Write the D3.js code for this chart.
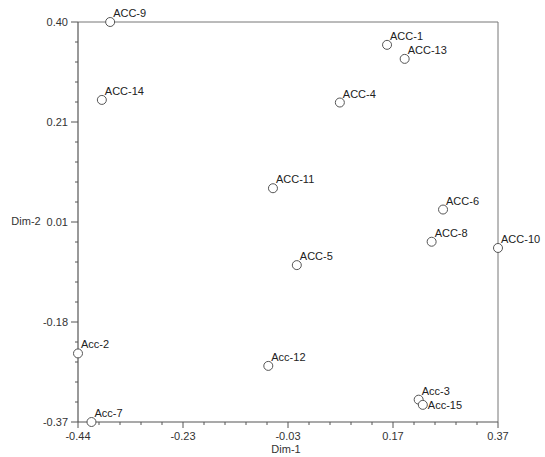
<!DOCTYPE html>
<html lang="en">
<head>
    <meta charset="UTF-8">
    <title>Dim-1 vs Dim-2</title>
    <script src="https://d3js.org/d3.v7.min.js"></script>
    <style>
        body { margin: 0; background: white; font-family: "Liberation Sans", Arial, sans-serif; }
        svg { display: block; }
    </style>
</head>
<body>
    <svg width="545" height="457"></svg>

    <script>
        // accession coordinates
        const names = ["ACC-1", "Acc-2", "Acc-3", "ACC-4", "ACC-5", "ACC-6", "Acc-7", "ACC-8",
                       "ACC-9", "ACC-10", "ACC-11", "Acc-12", "ACC-13", "ACC-14", "Acc-15"];
        const dim1 = [0.156, -0.44, 0.217, 0.065, -0.018, 0.264, -0.414, 0.242,
                      -0.378, 0.37, -0.064, -0.073, 0.190, -0.394, 0.225];
        const dim2 = [0.356, -0.238, -0.327, 0.245, -0.068, 0.039, -0.37, -0.023,
                      0.40, -0.035, 0.080, -0.262, 0.329, 0.250, -0.337];

        const xTicks = [-0.44, -0.2375, -0.035, 0.1675, 0.37];
        const xTickLabels = ["-0.44", "-0.23", "-0.03", "0.17", "0.37"];
        const yTicks = [-0.37, -0.1775, 0.015, 0.2075, 0.40];
        const yTickLabels = ["-0.37", "-0.18", "0.01", "0.21", "0.40"];

        const svg = d3.select("svg");
        const mLeft = 78, mRight = 498, mTop = 22, mBottom = 422;

        const x = d3.scaleLinear().domain([-0.44, 0.37]).range([mLeft, mRight]);
        const y = d3.scaleLinear().domain([-0.37, 0.40]).range([mBottom, mTop]);

        // minor ticks: 5 sub-intervals between majors
        const minor = (ticks) => {
            const out = [];
            for (let i = 0; i < ticks.length - 1; i++) {
                const step = (ticks[i + 1] - ticks[i]) / 5;
                for (let k = 1; k < 5; k++) out.push(ticks[i] + k * step);
            }
            return out;
        };

        // top and right frame
        svg.append("path")
            .attr("d", `M${mLeft},${mTop}H${mRight}V${mBottom}`)
            .attr("fill", "none").attr("stroke", "#777").attr("stroke-width", 1);

        const axisColor = "#555";

        // x axis
        const gx = svg.append("g").attr("transform", `translate(0,${mBottom})`);
        gx.append("line").attr("x1", mLeft).attr("x2", mRight).attr("stroke", axisColor).attr("stroke-width", 1.2);
        gx.selectAll(".maj").data(xTicks).join("line")
            .attr("x1", d => x(d)).attr("x2", d => x(d)).attr("y1", 0).attr("y2", 6)
            .attr("stroke", axisColor);
        gx.selectAll(".min").data(minor(xTicks)).join("line")
            .attr("x1", d => x(d)).attr("x2", d => x(d)).attr("y1", 0).attr("y2", 3)
            .attr("stroke", axisColor);
        gx.selectAll("text").data(xTicks).join("text")
            .attr("x", d => x(d)).attr("y", 18)
            .attr("text-anchor", "middle").attr("font-size", 11).attr("fill", "#333")
            .text((d, i) => xTickLabels[i]);

        // y axis
        const gy = svg.append("g").attr("transform", `translate(${mLeft},0)`);
        gy.append("line").attr("y1", mTop).attr("y2", mBottom).attr("stroke", axisColor).attr("stroke-width", 1.2);
        gy.selectAll(".maj").data(yTicks).join("line")
            .attr("y1", d => y(d)).attr("y2", d => y(d)).attr("x1", 0).attr("x2", -7)
            .attr("stroke", axisColor);
        gy.selectAll(".min").data(minor(yTicks)).join("line")
            .attr("y1", d => y(d)).attr("y2", d => y(d)).attr("x1", 0).attr("x2", -3)
            .attr("stroke", axisColor);
        gy.selectAll("text").data(yTicks).join("text")
            .attr("x", -10).attr("y", d => y(d) + 4)
            .attr("text-anchor", "end").attr("font-size", 11).attr("fill", "#333")
            .text((d, i) => yTickLabels[i]);

        // axis titles
        svg.append("text").attr("x", 286).attr("y", 453)
            .attr("text-anchor", "middle").attr("font-size", 11).attr("fill", "#333").text("Dim-1");
        svg.append("text").attr("x", 26).attr("y", 225)
            .attr("text-anchor", "middle").attr("font-size", 11).attr("fill", "#333").text("Dim-2");

        // points and labels
        const pts = names.map((n, i) => ({ name: n, d1: dim1[i], d2: dim2[i] }));

        svg.selectAll(".pt").data(pts).join("circle")
            .attr("class", "pt")
            .attr("cx", d => x(d.d1)).attr("cy", d => y(d.d2)).attr("r", 4.5)
            .attr("fill", "white").attr("stroke", "#555").attr("stroke-width", 1);

        // Acc-15 sits right next to Acc-3, so its label goes beside the marker
        svg.selectAll(".lbl").data(pts).join("text")
            .attr("class", "lbl")
            .attr("x", d => x(d.d1) + (d.name === "Acc-15" ? 5 : 3))
            .attr("y", d => y(d.d2) + (d.name === "Acc-15" ? 4 : -5))
            .attr("font-size", 11).attr("fill", "#222")
            .text(d => d.name);
    </script>
</body>
</html>
